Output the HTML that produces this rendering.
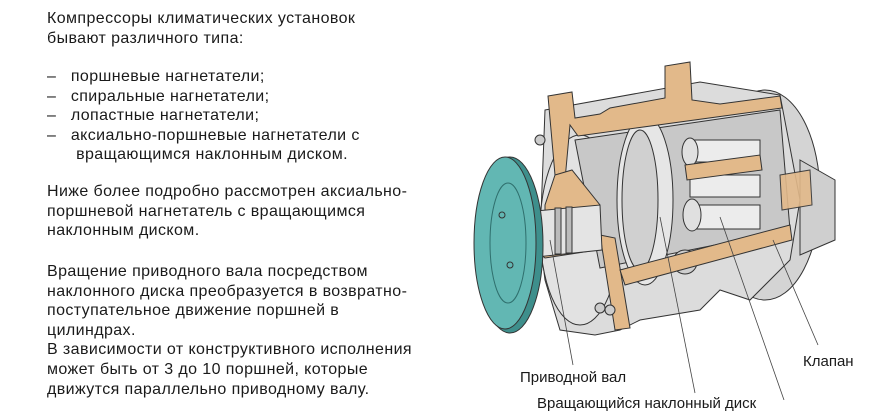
<!DOCTYPE html>
<html><head><meta charset="utf-8"><style>
html,body{margin:0;padding:0;background:#fff;}
body{width:870px;height:400px;position:relative;overflow:hidden;font-family:"Liberation Sans","DejaVu Sans",sans-serif;color:#1a1a1a;}
.t{position:absolute;left:47px;font-size:16px;letter-spacing:0.4px;line-height:19.6px;white-space:nowrap;}
.lbl{position:absolute;font-size:14px;white-space:nowrap;}
svg{position:absolute;left:0;top:0;}
</style></head><body>
<div class="t" style="top:9px">Компрессоры климатических установок<br>бывают различного типа:</div>
<div class="t" style="top:67px">–&nbsp;&nbsp;&nbsp;поршневые нагнетатели;<br>–&nbsp;&nbsp;&nbsp;спиральные нагнетатели;<br>–&nbsp;&nbsp;&nbsp;лопастные нагнетатели;<br>–&nbsp;&nbsp;&nbsp;аксиально-поршневые нагнетатели с<br>&nbsp;&nbsp;&nbsp;&nbsp;&nbsp;&nbsp;вращающимся наклонным диском.</div>
<div class="t" style="top:182px">Ниже более подробно рассмотрен аксиально-<br>поршневой нагнетатель с вращающимся<br>наклонным диском.</div>
<div class="t" style="top:262px">Вращение приводного вала посредством<br>наклонного диска преобразуется в возвратно-<br>поступательное движение поршней в<br>цилиндрах.<br>В зависимости от конструктивного исполнения<br>может быть от 3 до 10 поршней, которые<br>движутся параллельно приводному валу.</div>

<svg width="870" height="400" viewBox="0 0 870 400">
 <g stroke="#333" stroke-width="1">
  <ellipse cx="765" cy="195" rx="55" ry="105" fill="#d4d4d4"/>
  <path d="M800 160 L835 180 L835 240 L800 255 Z" fill="#cfcfcf"/>
  <path d="M545 110 L700 82 L780 95 L800 200 L790 260 L750 300 L720 290 L700 310 L640 320 L620 330 L595 335 L560 330 L545 280 L540 240 Z" fill="#dcdcdc"/>
  <ellipse cx="580" cy="230" rx="40" ry="95" fill="#e2e2e2"/>
  <path d="M575 140 L780 110 L790 230 L600 268 Z" fill="#c8c8c8"/>
  <ellipse cx="645" cy="200" rx="28" ry="85" fill="#e6e6e6"/>
  <ellipse cx="640" cy="200" rx="18" ry="70" fill="#d0d0d0"/>
  <rect x="690" y="140" width="70" height="22" fill="#ececec"/>
  <rect x="690" y="175" width="70" height="22" fill="#ececec"/>
  <rect x="690" y="205" width="70" height="24" fill="#ececec"/>
  <ellipse cx="690" cy="152" rx="8" ry="14" fill="#e0e0e0"/>
  <ellipse cx="692" cy="215" rx="9" ry="16" fill="#e0e0e0"/>
  <circle cx="685" cy="262" r="12" fill="#cfcfcf"/>
  <path d="M548 96 L572 92 L575 118 L600 114 L610 108 L665 98 L665 66 L690 62 L692 100 L720 104 L780 96 L782 108 L578 136 L570 125 L565 180 L555 175 Z" fill="#e2b98a"/>
  <path d="M555 175 L572 170 L600 205 L600 213 L545 220 L545 205 Z" fill="#e2b98a"/>
  <path d="M535 250 L605 238 L610 248 L545 258 Z" fill="#e2b98a"/>
  <path d="M600 235 L615 330 L630 328 L615 238 Z" fill="#e2b98a"/>
  <path d="M620 270 L790 225 L792 240 L625 285 Z" fill="#e2b98a"/>
  <path d="M685 165 L760 155 L762 170 L687 180 Z" fill="#e2b98a"/>
  <path d="M780 175 L810 170 L812 205 L782 210 Z" fill="#e2b98a" opacity=".9"/>
  <path d="M525 212 L600 205 L602 250 L527 258 Z" fill="#e4e4e4"/>
  <rect x="555" y="208" width="6" height="46" fill="#bbb"/>
  <rect x="566" y="207" width="6" height="46" fill="#bbb"/>
  <circle cx="540" cy="140" r="5" fill="#ccc"/>
  <circle cx="600" cy="308" r="5" fill="#ccc"/>
  <circle cx="610" cy="310" r="5" fill="#ccc"/>
  <ellipse cx="510" cy="245" rx="33" ry="88" fill="#3e8f8c"/>
  <ellipse cx="505" cy="243" rx="31" ry="86" fill="#62b7b3"/>
  <ellipse cx="508" cy="243" rx="18" ry="60" fill="none" stroke="#2f6f6d"/>
  <circle cx="502" cy="215" r="3" fill="none"/>
  <circle cx="510" cy="265" r="3" fill="none"/>
 </g>
 <g stroke="#444" stroke-width="0.8" fill="none">
  <line x1="550" y1="240" x2="573" y2="365"/>
  <line x1="660" y1="217" x2="695" y2="393"/>
  <line x1="720" y1="217" x2="784" y2="400"/>
  <line x1="773" y1="240" x2="818" y2="345"/>
 </g>
</svg>
<div class="lbl" style="left:803px;top:353px;font-size:15px">Клапан</div>
<div class="lbl" style="left:520px;top:369px;font-size:15px">Приводной вал</div>
<div class="lbl" style="left:537px;top:395px;font-size:15px">Вращающийся наклонный диск</div>
</body></html>
